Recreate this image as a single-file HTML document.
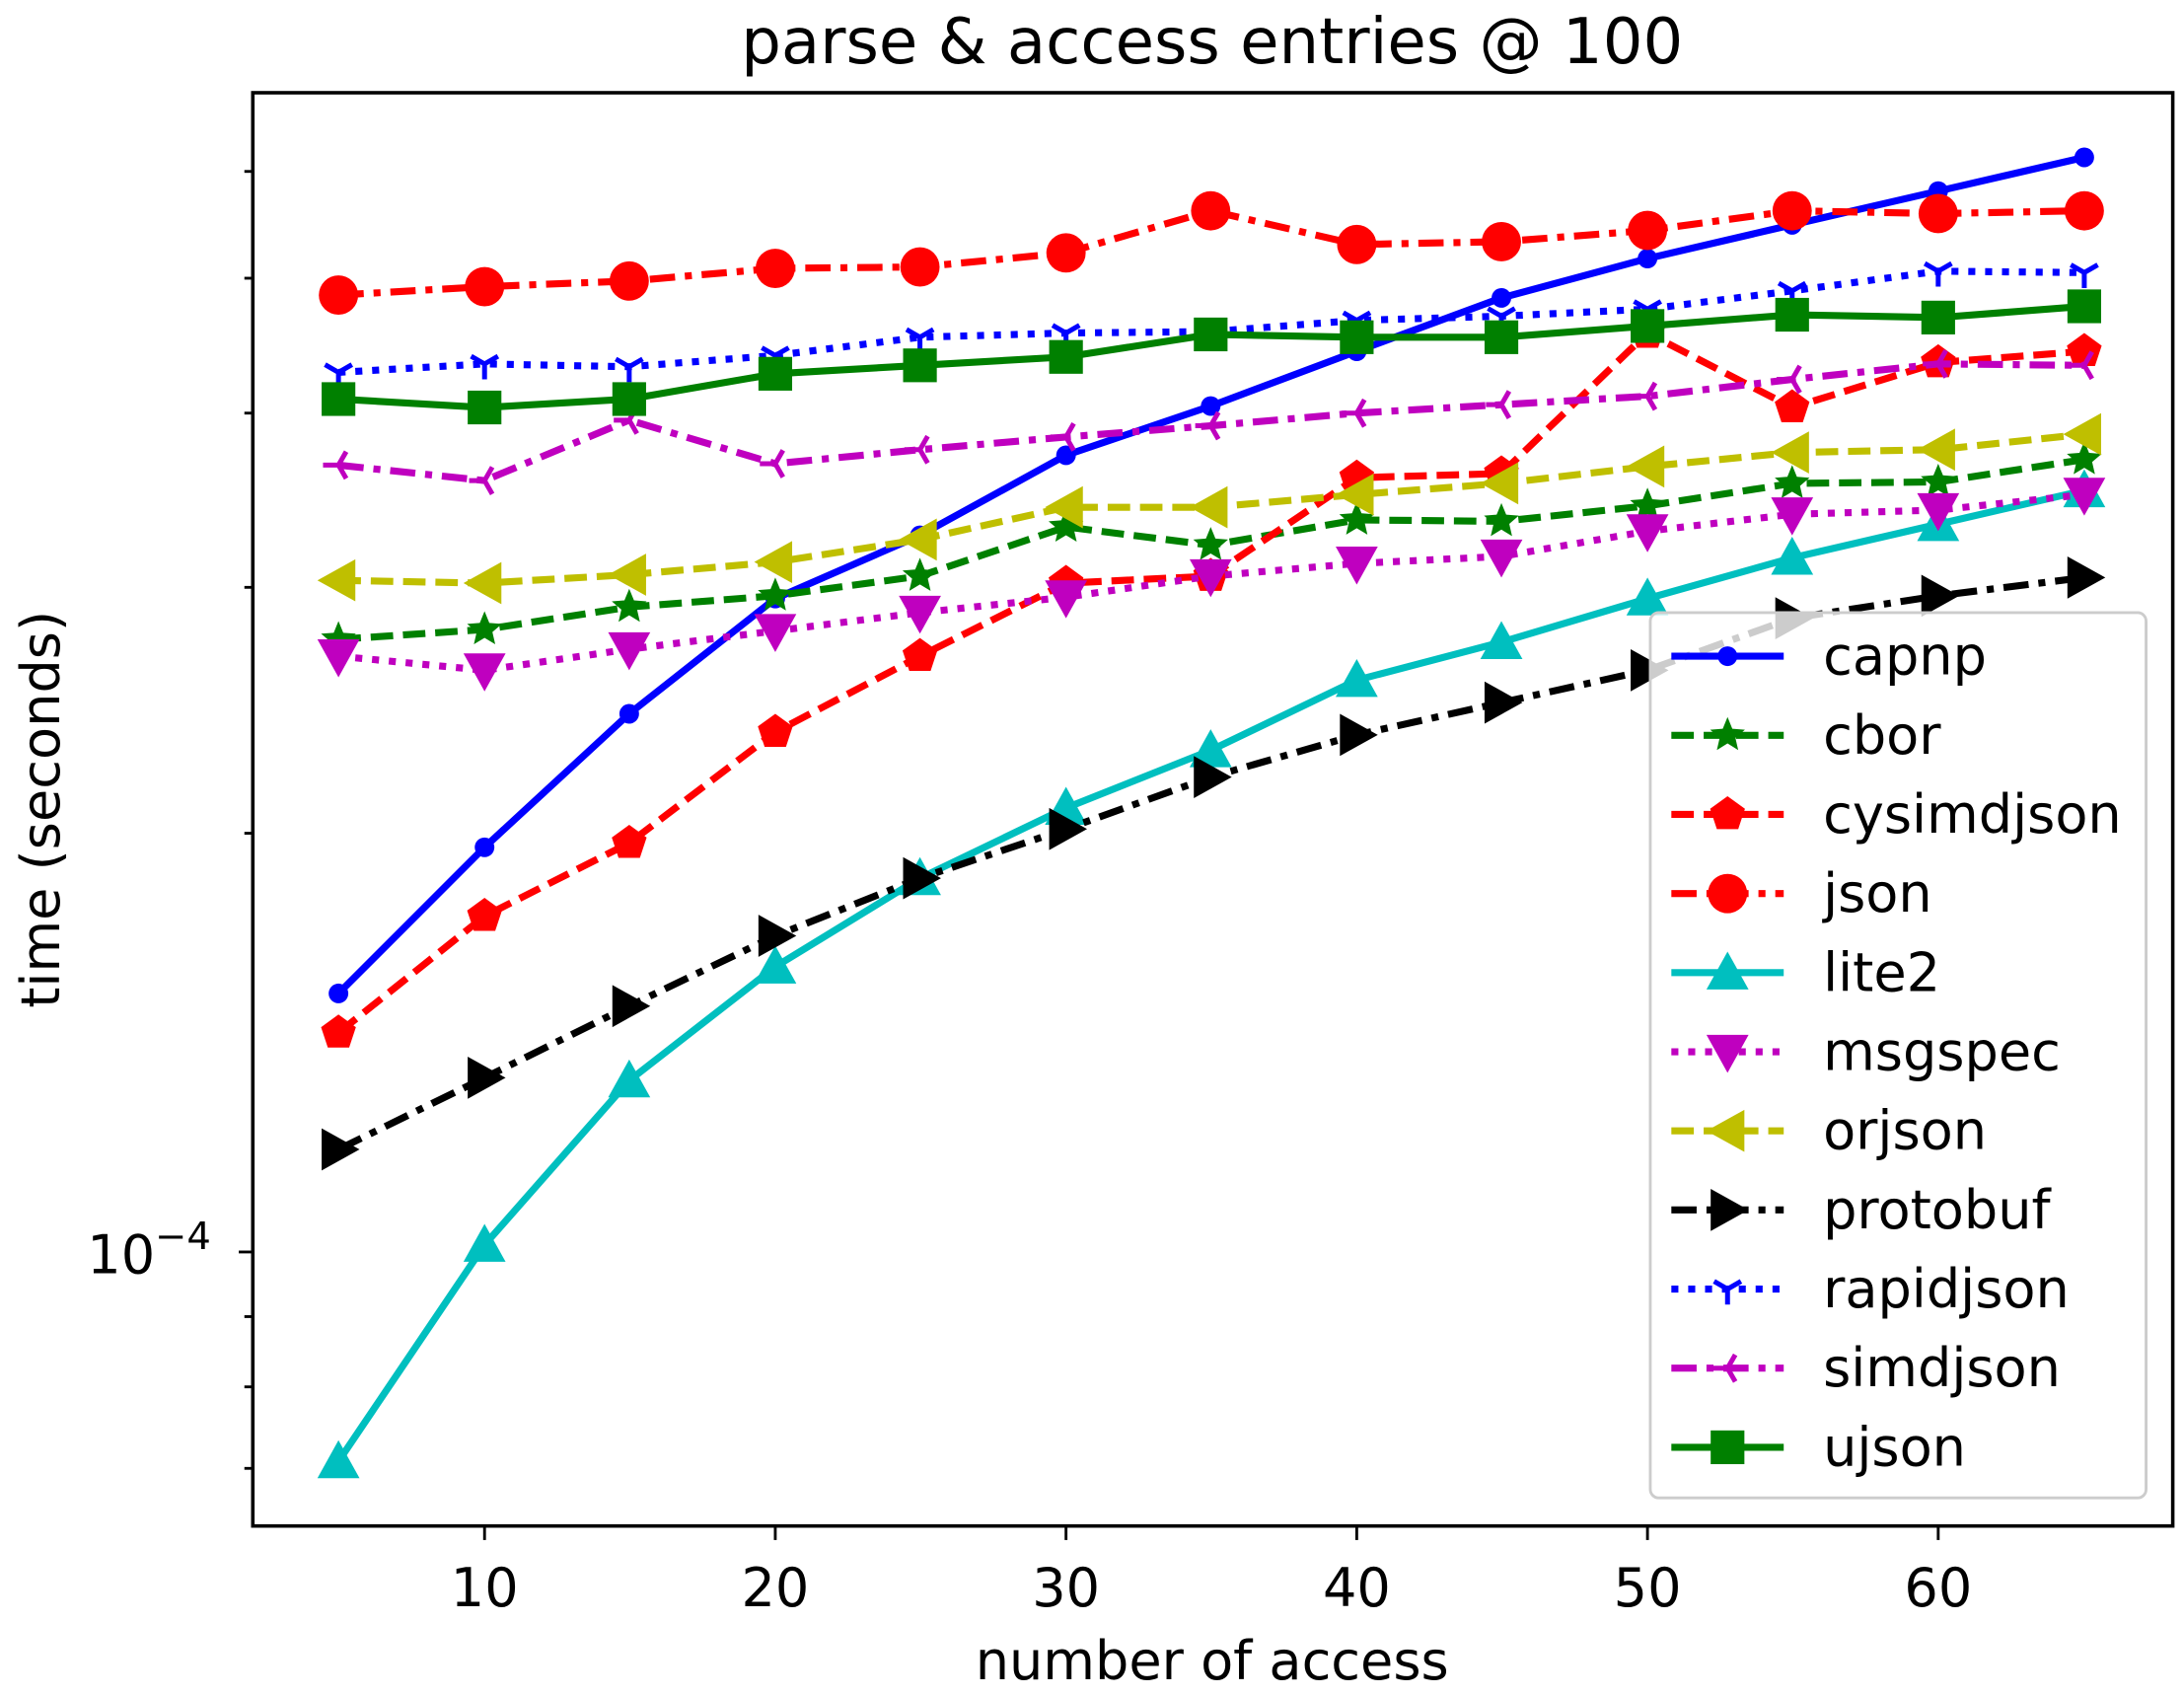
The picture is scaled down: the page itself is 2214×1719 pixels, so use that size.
<!DOCTYPE html>
<html><head><meta charset="utf-8"><style>
html,body{margin:0;padding:0;background:#fff;}
svg{display:block;}
text{font-family:"DejaVu Sans","Liberation Sans",sans-serif;fill:#000;}
</style></head><body>
<svg id="s" width="2214" height="1719" viewBox="0 0 1555 1207" preserveAspectRatio="none" xmlns="http://www.w3.org/2000/svg">
<rect x="0" y="0" width="1555" height="1207" fill="#fff"/>
<g id="plot"></g>
<rect x="180" y="66" width="1367" height="1020" fill="none" stroke="#000" stroke-width="2.5"/>
<text x="863" y="45" font-size="45" text-anchor="middle">parse &amp; access entries @ 100</text>
<text x="863" y="1195" font-size="38" text-anchor="middle">number of access</text>
<text transform="translate(42,576) rotate(-90)" font-size="38" text-anchor="middle">time (seconds)</text>
<g font-size="38" text-anchor="middle">
<text x="345" y="1143">10</text><text x="552" y="1143">20</text><text x="759" y="1143">30</text>
<text x="966" y="1143">40</text><text x="1173" y="1143">50</text><text x="1380" y="1143">60</text>
</g>
<text x="62" y="906" font-size="38">10<tspan font-size="27" dy="-17">−4</tspan></text>
<g id="legend"></g>
</svg>
<script>
const X=[241,345,448,552,655,759,862,966,1069,1173,1276,1380,1484];
const S=[
["capnp","#0000ff","","circ",7,[707,603,508,426,381,324,289,250,212,184,160,136,112]],
["cbor","#008000","16 7","star",13,[455,448,432,424,410,375,388,370,371,360,344,343,327]],
["cysimdjson","#ff0000","16 7","pent",13,[735,652,600,521,467,415,410,340,337,237,290,258,250]],
["json","#ff0000","18 7 5 7","circ",14,[210,204,200,191,190,180,150,174,172,164,150,152,150]],
["lite2","#00bfbf","","tu",15,[1040,886,769,688,625,575,534,484,457,426,397,373,349]],
["msgspec","#bf00bf","5 7","td",15,[467,477,462,449,436,425,410,401,396,378,366,363,352]],
["orjson","#bfbf00","16 7","tl",15,[413,415,409,400,384,361,361,352,344,332,322,320,309]],
["protobuf","#000000","18 7 5 7","tr",15,[818,767,716,666,625,590,553,523,500,477,440,424,411]],
["rapidjson","#0000ff","5 7","y",11,[265,259,261,253,240,237,236,228,225,220,207,193,194]],
["simdjson","#bf00bf","18 7 5 7","yr",11,[331,342,299,330,320,311,303,294,288,282,270,259,260]],
["ujson","#008000","","sq",12,[284,290,284,266,260,254,238,240,240,232,224,226,218]]];
function mk(t,x,y,r,c){
 const P=a=>'<polygon points="'+a.map(p=>(x+p[0]*r).toFixed(1)+','+(y+p[1]*r).toFixed(1)).join(' ')+'" fill="'+c+'"/>';
 if(t=="circ")return '<circle cx="'+x+'" cy="'+y+'" r="'+r+'" fill="'+c+'"/>';
 if(t=="sq")return '<rect x="'+(x-r)+'" y="'+(y-r)+'" width="'+2*r+'" height="'+2*r+'" fill="'+c+'"/>';
 if(t=="tu")return P([[0,-1],[1,.8],[-1,.8]]);
 if(t=="td")return P([[0,1],[1,-.8],[-1,-.8]]);
 if(t=="tl")return P([[-1,0],[.8,-1],[.8,1]]);
 if(t=="tr")return P([[1,0],[-.8,-1],[-.8,1]]);
 if(t=="pent"||t=="star"){let a=[];const n=t=="pent"?5:10;for(let i=0;i<n;i++){const ang=-Math.PI/2+i*2*Math.PI/n;const rr=(t=="star"&&i%2)?0.45:1;a.push([Math.cos(ang)*rr,Math.sin(ang)*rr]);}return P(a);}
 if(t=="y")return '<path d="M'+x+','+y+'v'+r+'M'+x+','+y+'l'+(-r*.87)+','+(-r*.5)+'M'+x+','+y+'l'+(r*.87)+','+(-r*.5)+'" stroke="'+c+'" stroke-width="3.5" fill="none"/>';
 if(t=="yr")return '<path d="M'+x+','+y+'h'+(-r)+'M'+x+','+y+'l'+(r*.5)+','+(-r*.87)+'M'+x+','+y+'l'+(r*.5)+','+(r*.87)+'" stroke="'+c+'" stroke-width="3.5" fill="none"/>';
}
let h='';
[[891,1],[937,0],[987,0],[1045,0],[593,0],[418,0],[294,0],[198,0],[122,0]].forEach(t=>{h+='<line x1="'+(180-(t[1]?10:6))+'" x2="180" y1="'+t[0]+'" y2="'+t[0]+'" stroke="#000" stroke-width="2"/>';});
[345,552,759,966,1173,1380].forEach(x=>{h+='<line x1="'+x+'" x2="'+x+'" y1="1086" y2="1096" stroke="#000" stroke-width="2"/>';});
S.forEach(s=>{
 h+='<polyline points="'+X.map((x,i)=>x+','+s[5][i]).join(' ')+'" fill="none" stroke="'+s[1]+'" stroke-width="5"'+(s[2]?' stroke-dasharray="'+s[2]+'"':'')+'/>';
 X.forEach((x,i)=>h+=mk(s[3],x,s[5][i],s[4],s[1]));
});
document.getElementById('plot').innerHTML=h;
let L='<rect x="1175" y="436" width="353" height="630" rx="6" fill="#fff" fill-opacity="0.8" stroke="#ccc" stroke-width="2"/>';
S.forEach((s,i)=>{const y=467+i*56.3;
 L+='<line x1="1190" x2="1270" y1="'+y+'" y2="'+y+'" stroke="'+s[1]+'" stroke-width="5"'+(s[2]?' stroke-dasharray="'+s[2]+'"':'')+'/>';
 L+=mk(s[3],1230,y,s[4],s[1]);
 L+='<text x="1298" y="'+(y+13)+'" font-size="38">'+s[0]+'</text>';});
document.getElementById('legend').innerHTML=L;
</script>
</body></html>
